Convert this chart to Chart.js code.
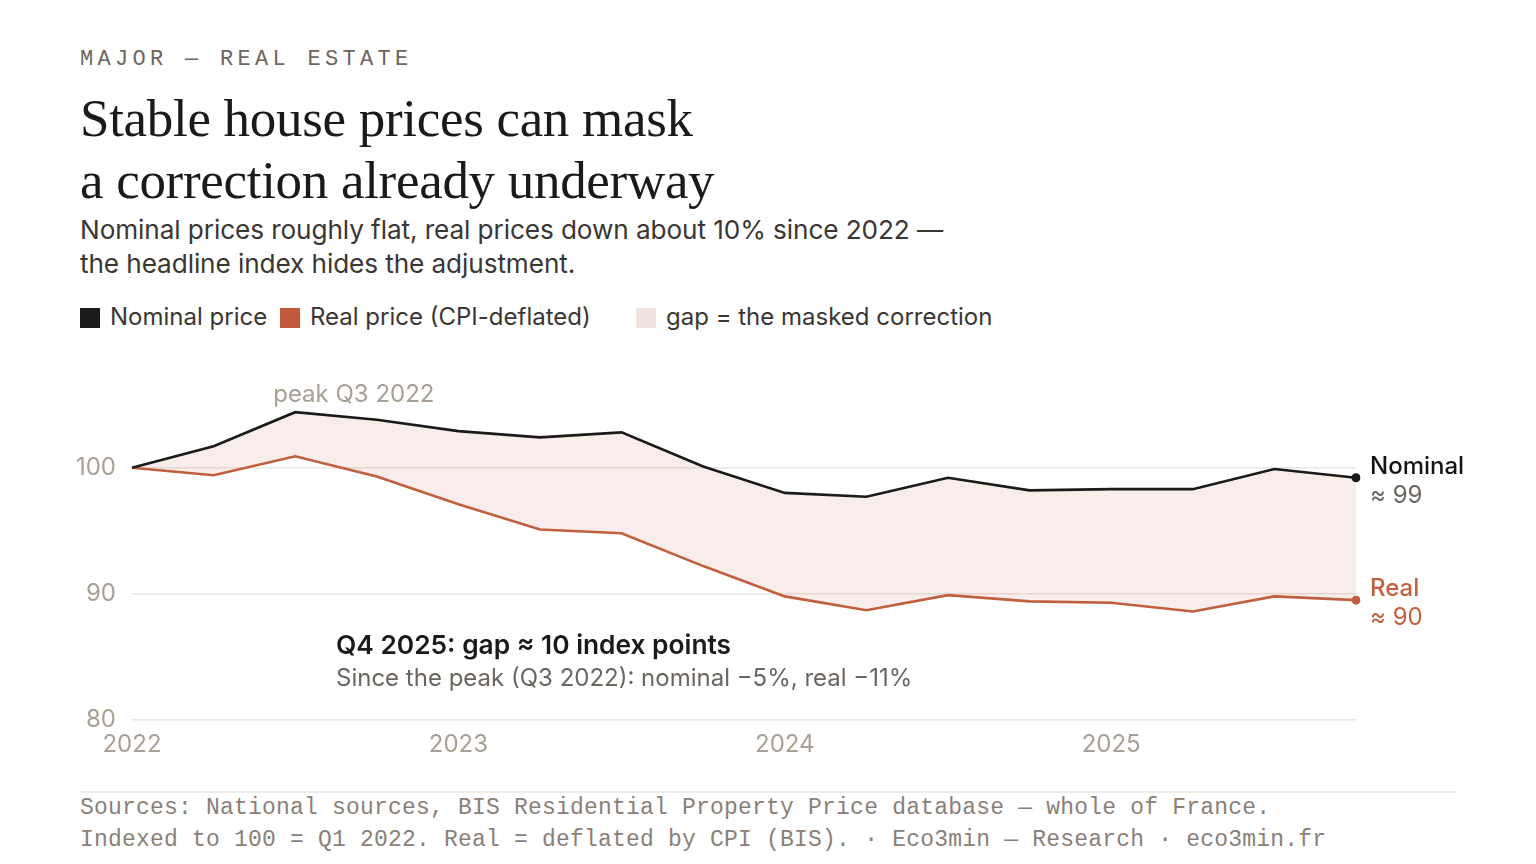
<!DOCTYPE html>
<html>
<head>
<meta charset="utf-8">
<script src="https://cdn.jsdelivr.net/npm/chart.js@4.4.1/dist/chart.umd.min.js"></script>
<style>
  html, body { margin: 0; padding: 0; background: #fff; }
  body { width: 1536px; height: 864px; position: relative; overflow: hidden; font-family: Inter, "Noto Sans", sans-serif; }
  .kicker { position: absolute; left: 80px; top: 46px; font-family: "Liberation Mono", "DejaVu Sans Mono", monospace; font-size: 22px; letter-spacing: 4.3px; color: #6e655d; line-height: 28px; white-space: nowrap; }
  .title { position: absolute; left: 80px; top: 87px; font-family: "Liberation Serif", "DejaVu Serif", serif; font-size: 53px; line-height: 62px; color: #1a1a1a; white-space: nowrap; letter-spacing: -0.3px; }
  .sub { position: absolute; left: 80px; top: 213px; font-size: 26.2px; line-height: 34px; color: #3a3634; white-space: nowrap; letter-spacing: -0.1px; }
  .legend { position: absolute; left: 80px; top: 302px; font-size: 24px; line-height: 30px; color: #3a3634; white-space: nowrap; }
  .legend span.sw { display: inline-block; width: 20px; height: 20px; vertical-align: -3px; margin-right: 10px; }
  .legend span.item { position: absolute; top: 0; }
  #wrap { position: absolute; left: 0; top: 360px; width: 1536px; height: 420px; }
  .note1 { position: absolute; left: 336px; top: 629px; font-size: 26.3px; font-weight: 600; color: #1a1a1a; line-height: 32px; white-space: nowrap; }
  .note2 { position: absolute; left: 336px; top: 663px; font-size: 24px; color: #6b6560; line-height: 30px; white-space: nowrap; }
  .rule { position: absolute; left: 80px; top: 791px; width: 1376px; height: 2px; background: #efece7; }
  .foot { position: absolute; left: 80px; top: 792px; font-family: "Liberation Mono", "DejaVu Sans Mono", monospace; font-size: 23px; letter-spacing: 0.2px; line-height: 32px; color: #8a8077; white-space: nowrap; }
</style>
</head>
<body>
<div class="kicker">MAJOR — REAL ESTATE</div>
<div class="title">Stable house prices can mask<br>a correction already underway</div>
<div class="sub">Nominal prices roughly flat, real prices down about 10% since 2022 —<br>the headline index hides the adjustment.</div>
<div class="legend">
  <span class="item" style="left:0"><span class="sw" style="background:#1c1c1c"></span>Nominal price</span>
  <span class="item" style="left:200px"><span class="sw" style="background:#bf5b3c"></span>Real price (CPI-deflated)</span>
  <span class="item" style="left:556px"><span class="sw" style="background:#f1e3dd"></span>gap = the masked correction</span>
</div>
<div id="wrap"><canvas id="c"></canvas></div>
<div class="note1">Q4 2025: gap ≈ 10 index points</div>
<div class="note2">Since the peak (Q3 2022): nominal −5%, real −11%</div>
<div class="rule"></div>
<div class="foot">Sources: National sources, BIS Residential Property Price database — whole of France.<br>Indexed to 100 = Q1 2022. Real = deflated by CPI (BIS). · Eco3min — Research · eco3min.fr</div>

<script>
const quarters = ["Q1 2022","Q2 2022","Q3 2022","Q4 2022","Q1 2023","Q2 2023","Q3 2023","Q4 2023",
                  "Q1 2024","Q2 2024","Q3 2024","Q4 2024","Q1 2025","Q2 2025","Q3 2025","Q4 2025"];
const nominal = [100, 101.7, 104.4, 103.8, 102.9, 102.4, 102.8, 100.1, 98.0, 97.7, 99.2, 98.2, 98.3, 98.3, 99.9, 99.2];
const real    = [100, 99.4, 100.9, 99.3, 97.1, 95.1, 94.8, 92.2, 89.8, 88.7, 89.9, 89.4, 89.3, 88.6, 89.8, 89.5];
const yTicks = [80, 90, 100];
const peakIndex = 2;
const endLabels = [
  { name: "Nominal", approx: "≈ 99", color: "#141414", approxColor: "#6b6560", series: nominal },
  { name: "Real", approx: "≈ 90", color: "#c0603f", approxColor: "#c0603f", series: real }
];

const NOM = "#1a1a1a", REAL = "#c0603f";
const last = quarters.length - 1;

const labelsPlugin = {
  id: "labels",
  afterDatasetsDraw(chart) {
    const ctx = chart.ctx, x = chart.scales.x, y = chart.scales.y;
    ctx.save();
    const px = x.getPixelForValue(peakIndex), py = y.getPixelForValue(nominal[peakIndex]);
    ctx.font = "24px Inter";
    ctx.fillStyle = "#a89f95";
    ctx.textAlign = "left";
    ctx.textBaseline = "middle";
    ctx.fillText("peak Q3 2022", px - 22, py - 17);
    endLabels.forEach(l => {
      const ex = x.getPixelForValue(last) + 14;
      const ey = y.getPixelForValue(l.series[last]);
      ctx.font = "500 24px Inter";
      ctx.fillStyle = l.color;
      ctx.fillText(l.name, ex, ey - 11);
      ctx.font = "24px Inter";
      ctx.fillStyle = l.approxColor;
      ctx.fillText(l.approx, ex, ey + 18);
    });
    ctx.restore();
  }
};

new Chart(document.getElementById("c"), {
  type: "line",
  data: {
    labels: quarters,
    datasets: [
      {
        label: "Nominal price", data: nominal, borderColor: NOM, borderWidth: 2.6,
        fill: "+1", backgroundColor: "rgba(192,90,60,0.11)",
        pointRadius: c => c.dataIndex === last ? 4.5 : 0, pointBackgroundColor: NOM, pointBorderWidth: 0,
        tension: 0
      },
      {
        label: "Real price", data: real, borderColor: REAL, borderWidth: 2.6, fill: false,
        pointRadius: c => c.dataIndex === last ? 4.5 : 0, pointBackgroundColor: REAL, pointBorderWidth: 0,
        tension: 0
      }
    ]
  },
  options: {
    responsive: true, maintainAspectRatio: false, animation: false,
    layout: { padding: { left: 60, right: 180, top: 32, bottom: 20 } },
    plugins: { legend: { display: false }, tooltip: { enabled: false } },
    scales: {
      x: {
        type: "category", offset: false,
        grid: { display: false, drawTicks: false },
        border: { display: false },
        ticks: {
          autoSkip: false, maxRotation: 0, padding: 10,
          color: "#a89f95", font: { family: "Inter", size: 24 },
          callback: (v, i) => i % 4 === 0 ? quarters[i].slice(3) : ""
        },
        afterFit: s => { s.height = 40; }
      },
      y: {
        min: 80, max: 106,
        afterBuildTicks: s => { s.ticks = yTicks.map(v => ({ value: v })); },
        grid: { color: "#ebe6e0", lineWidth: 1.5, drawTicks: false },
        border: { display: false },
        ticks: { padding: 16, color: "#a89f95", font: { family: "Inter", size: 24 } },
        afterFit: s => { s.width = 72; }
      }
    }
  },
  plugins: [labelsPlugin]
});
</script>
</body>
</html>
